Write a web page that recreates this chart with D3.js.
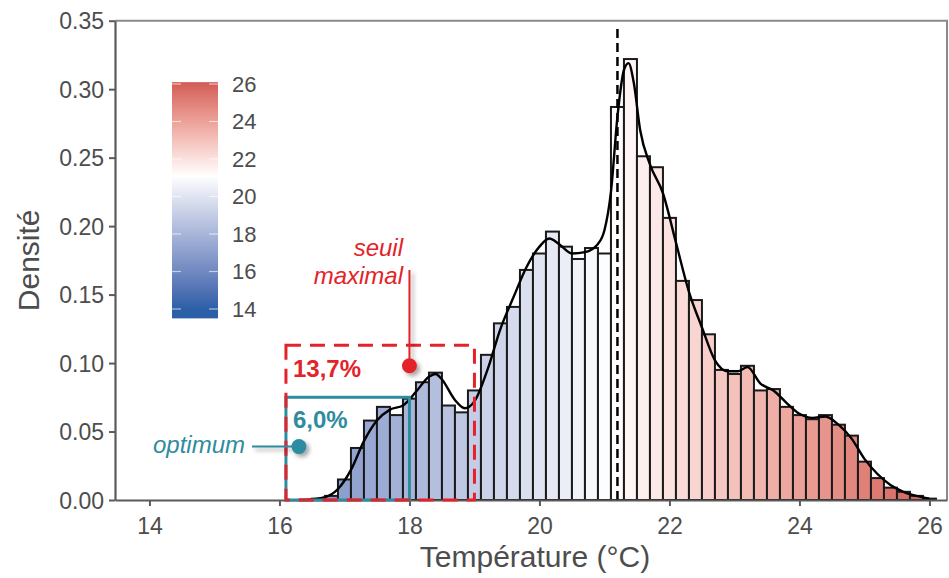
<!DOCTYPE html>
<html>
<head>
<meta charset="utf-8">
<script src="https://cdn.jsdelivr.net/npm/d3@7"></script>
<style>
  body { margin: 0; background: #fff; }
  svg text { font-family: "Liberation Sans", Arial, sans-serif; }
</style>
</head>
<body>
<div id="chart"></div>
<script>
// bin centres (width 0.2 °C) and densities
var binCentres = [16.6, 16.8, 17.0, 17.2, 17.4, 17.6, 17.8, 18.0, 18.2, 18.4, 18.6, 18.8,
  19.0, 19.2, 19.4, 19.6, 19.8, 20.0, 20.2, 20.4, 20.6, 20.8, 21.0, 21.2, 21.4, 21.6,
  21.8, 22.0, 22.2, 22.4, 22.6, 22.8, 23.0, 23.2, 23.4, 23.6, 23.8, 24.0, 24.2, 24.4,
  24.6, 24.8, 25.0, 25.2, 25.4, 25.6, 25.8, 26.0];
var binDensity = [0.001, 0.003, 0.015, 0.038, 0.058, 0.068, 0.062, 0.074, 0.086, 0.093, 0.069, 0.064,
  0.080, 0.106, 0.129, 0.141, 0.168, 0.180, 0.196, 0.185, 0.176, 0.184, 0.180, 0.287, 0.322, 0.251,
  0.243, 0.206, 0.160, 0.146, 0.121, 0.095, 0.092, 0.098, 0.080, 0.081, 0.068, 0.062, 0.059, 0.062,
  0.055, 0.047, 0.028, 0.016, 0.009, 0.006, 0.003, 0.001];

// kernel density curve
var kdeTemp = [16.3, 16.5, 16.7, 16.9, 17.1, 17.3, 17.5, 17.7, 17.9, 18.1, 18.3, 18.4, 18.5, 18.7,
  18.85, 19.0, 19.2, 19.4, 19.6, 19.8, 20.0, 20.15, 20.3, 20.5, 20.7, 20.9, 21.0, 21.1, 21.2,
  21.3, 21.37, 21.45, 21.55, 21.7, 21.9, 22.1, 22.3, 22.5, 22.7, 22.9, 23.05, 23.2, 23.4, 23.6,
  23.8, 24.0, 24.2, 24.4, 24.6, 24.8, 25.0, 25.2, 25.4, 25.6, 25.8, 26.0];
var kdeDensity = [0.000, 0.0005, 0.002, 0.008, 0.022, 0.043, 0.058, 0.066, 0.069, 0.079, 0.090, 0.092, 0.088, 0.073,
  0.067, 0.072, 0.095, 0.125, 0.148, 0.170, 0.185, 0.191, 0.187, 0.180, 0.181, 0.187, 0.197, 0.225, 0.280,
  0.314, 0.319, 0.305, 0.270, 0.245, 0.224, 0.188, 0.152, 0.126, 0.102, 0.094, 0.094, 0.097, 0.085, 0.080,
  0.071, 0.063, 0.060, 0.061, 0.055, 0.045, 0.030, 0.019, 0.011, 0.006, 0.003, 0.001];

var xTicks = [14, 16, 18, 20, 22, 24, 26];
var yTicks = [0, 0.05, 0.10, 0.15, 0.20, 0.25, 0.30, 0.35];
var legendTicks = [14, 16, 18, 20, 22, 24, 26];

var medianTemp = 21.2;
var colourMid = 21.1;

// annotation boxes (temperature / density units)
var seuil = {x0: 16.1, x1: 19.0, top: 0.113, label: "13,7%", dot: [18.0, 0.098]};
var optimum = {x0: 16.1, x1: 18.0, top: 0.075, label: "6,0%", dot: [16.3, 0.039]};

var red = "#e3222a", teal = "#2f8ca0", grey = "#4d4d4d";

var width = 949, height = 578;

var svg = d3.select("#chart").append("svg")
  .attr("width", width)
  .attr("height", height);

var defs = svg.append("defs");
var shadow = defs.append("filter").attr("id", "shadow")
  .attr("x", "-50%").attr("y", "-50%").attr("width", "200%").attr("height", "200%");
shadow.append("feDropShadow")
  .attr("dx", 3).attr("dy", 3).attr("stdDeviation", 2)
  .attr("flood-color", "#000").attr("flood-opacity", 0.35);

var x = d3.scaleLinear().domain([13.47, 26.27]).range([115, 947]);
var y = d3.scaleLinear().domain([0, 0.35]).range([500, 20.7]);

var colour = d3.scaleLinear()
  .domain([14, colourMid, 26])
  .range(["#2b5fa8", "#ffffff", "#d35f59"])
  .interpolate(d3.interpolateLab);

var binW = 0.2;

// bars
svg.append("g").selectAll("rect")
  .data(binCentres)
  .enter().append("rect")
  .attr("x", d => x(d - binW / 2))
  .attr("width", d => x(d + binW / 2) - x(d - binW / 2))
  .attr("y", (d, i) => y(binDensity[i]))
  .attr("height", (d, i) => y(0) - y(binDensity[i]))
  .attr("fill", d => colour(d))
  .attr("stroke", "#1a1a1a")
  .attr("stroke-width", 2);

// density curve
var line = d3.line()
  .x(d => x(d[0]))
  .y(d => y(d[1]))
  .curve(d3.curveMonotoneX);

svg.append("path")
  .datum(kdeTemp.map((t, i) => [t, kdeDensity[i]]))
  .attr("d", line)
  .attr("fill", "none")
  .attr("stroke", "#000")
  .attr("stroke-width", 2.4);

// median line
svg.append("line")
  .attr("x1", x(medianTemp)).attr("x2", x(medianTemp))
  .attr("y1", y(0)).attr("y2", y(0.344))
  .attr("stroke", "#000")
  .attr("stroke-width", 2.5)
  .attr("stroke-dasharray", "9,5");

// axes
var xAxis = d3.axisBottom(x).tickValues(xTicks).tickSize(6).tickSizeOuter(0).tickPadding(8);
var yAxis = d3.axisLeft(y).tickValues(yTicks).tickSize(6).tickSizeOuter(0).tickPadding(5)
  .tickFormat(d3.format(".2f"));

// panel border (top/right)
svg.append("path")
  .attr("d", "M" + x.range()[0] + "," + y(0.35) + "H" + x.range()[1] + "V" + y(0))
  .attr("fill", "none")
  .attr("stroke", "#8a8a8a")
  .attr("stroke-width", 2);

var gx = svg.append("g")
  .attr("transform", "translate(0," + y(0) + ")")
  .call(xAxis);
var gy = svg.append("g")
  .attr("transform", "translate(" + x.range()[0] + ",0)")
  .call(yAxis);

[gx, gy].forEach(function(g) {
  g.select(".domain").attr("stroke", "#5a5a5a").attr("stroke-width", 2.2);
  g.selectAll(".tick line").attr("stroke", "#5a5a5a").attr("stroke-width", 2);
  g.selectAll(".tick text")
    .attr("fill", grey)
    .style("font-size", "23px")
    .style("font-family", "Liberation Sans, Arial, sans-serif");
});
gy.selectAll(".tick text").attr("dy", "0.36em");
gx.selectAll(".tick text").attr("dy", "0.85em");

svg.append("text")
  .attr("x", (x.range()[0] + x.range()[1]) / 2 + 4)
  .attr("y", 567)
  .attr("text-anchor", "middle")
  .attr("fill", grey)
  .style("font-size", "30px")
  .text("Température (°C)");

svg.append("text")
  .attr("transform", "translate(39," + ((y(0) + y(0.35)) / 2) + ") rotate(-90)")
  .attr("text-anchor", "middle")
  .attr("fill", grey)
  .style("font-size", "30px")
  .text("Densité");

// colour legend
var legY = d3.scaleLinear().domain([14, 26]).range([309, 84]);
var grad = defs.append("linearGradient").attr("id", "leg")
  .attr("x1", 0).attr("y1", 1).attr("x2", 0).attr("y2", 0);
d3.range(13.5, 26.11, 0.1).forEach(function(v) {
  grad.append("stop")
    .attr("offset", (v - 13.5) / (26.1 - 13.5))
    .attr("stop-color", colour(Math.min(26, Math.max(14, v))));
});
svg.append("rect")
  .attr("x", 172).attr("width", 46)
  .attr("y", legY(26.1)).attr("height", legY(13.5) - legY(26.1))
  .attr("fill", "url(#leg)");

var legT = svg.append("g").selectAll("g")
  .data(legendTicks)
  .enter().append("g");
legT.append("line")
  .attr("x1", 172).attr("x2", 181)
  .attr("y1", d => legY(d)).attr("y2", d => legY(d))
  .attr("stroke", "#fff").attr("stroke-opacity", 0.6).attr("stroke-width", 1.2);
legT.append("line")
  .attr("x1", 209).attr("x2", 218)
  .attr("y1", d => legY(d)).attr("y2", d => legY(d))
  .attr("stroke", "#fff").attr("stroke-opacity", 0.6).attr("stroke-width", 1.2);
legT.append("text")
  .attr("x", 232)
  .attr("y", d => legY(d))
  .attr("dy", "0.36em")
  .attr("fill", grey)
  .style("font-size", "22px")
  .text(d => d);

// annotation boxes
svg.append("rect")
  .attr("x", x(optimum.x0)).attr("y", y(optimum.top))
  .attr("width", x(optimum.x1) - x(optimum.x0))
  .attr("height", y(0) - y(optimum.top))
  .attr("fill", "none")
  .attr("stroke", teal)
  .attr("stroke-width", 3);

svg.append("rect")
  .attr("x", x(seuil.x0)).attr("y", y(seuil.top))
  .attr("width", x(seuil.x1) - x(seuil.x0))
  .attr("height", y(0) - y(seuil.top))
  .attr("fill", "none")
  .attr("stroke", red)
  .attr("stroke-width", 3)
  .attr("stroke-dasharray", "15,9");

svg.append("text")
  .attr("x", x(seuil.x0) + 7).attr("y", 377)
  .attr("fill", red)
  .style("font-size", "24px").style("font-weight", "bold")
  .text(seuil.label);

svg.append("text")
  .attr("x", x(optimum.x0) + 7).attr("y", 428)
  .attr("fill", teal)
  .style("font-size", "24px").style("font-weight", "bold")
  .text(optimum.label);

// callouts
var callouts = svg.append("g").attr("filter", "url(#shadow)");

callouts.append("line")
  .attr("x1", x(seuil.dot[0])).attr("x2", x(seuil.dot[0]))
  .attr("y1", 270).attr("y2", y(seuil.dot[1]))
  .attr("stroke", red).attr("stroke-width", 2);
callouts.append("circle")
  .attr("cx", x(seuil.dot[0])).attr("cy", y(seuil.dot[1]))
  .attr("r", 7.5).attr("fill", red);

callouts.append("line")
  .attr("x1", 252).attr("x2", x(optimum.dot[0]))
  .attr("y1", y(optimum.dot[1])).attr("y2", y(optimum.dot[1]))
  .attr("stroke", teal).attr("stroke-width", 2);
callouts.append("circle")
  .attr("cx", x(optimum.dot[0])).attr("cy", y(optimum.dot[1]))
  .attr("r", 7.5).attr("fill", teal);

svg.append("text")
  .attr("x", 403).attr("y", 256)
  .attr("text-anchor", "end")
  .attr("fill", red)
  .style("font-size", "24px").style("font-style", "italic")
  .text("seuil");
svg.append("text")
  .attr("x", 403).attr("y", 284)
  .attr("text-anchor", "end")
  .attr("fill", red)
  .style("font-size", "24px").style("font-style", "italic")
  .text("maximal");

svg.append("text")
  .attr("x", 245).attr("y", 453)
  .attr("text-anchor", "end")
  .attr("fill", teal)
  .style("font-size", "24px").style("font-style", "italic")
  .text("optimum");
</script>
</body>
</html>
